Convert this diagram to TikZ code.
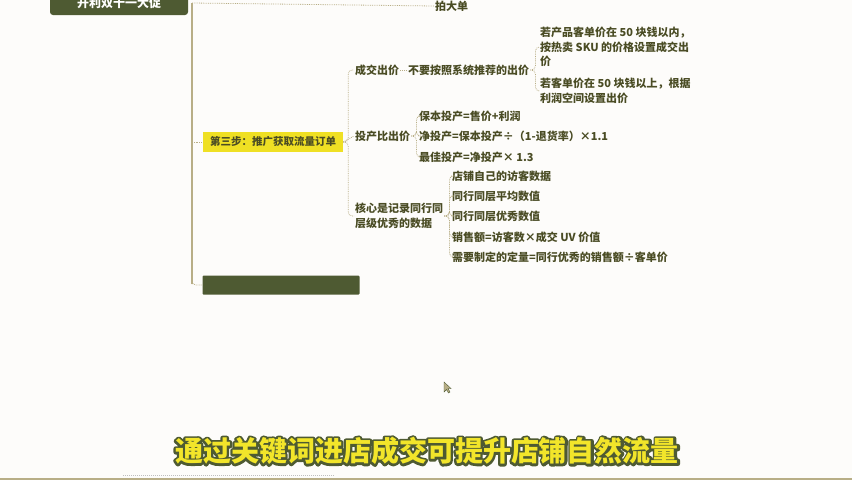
\documentclass[tikz,border=0pt]{standalone}
\usepackage{fontspec}
\setmainfont{Noto Sans CJK SC}
\usetikzlibrary{positioning}
\definecolor{olivedark}{HTML}{4E5A32}
\definecolor{textolive}{HTML}{4A4C24}
\definecolor{linetan}{HTML}{B8AE86}
\definecolor{stepyellow}{HTML}{EFE024}
\definecolor{subyellow}{HTML}{F2E52A}
\definecolor{paper}{HTML}{FDFCFA}
\tikzset{
  item/.style={anchor=west, inner sep=1pt, text=textolive, align=left,
    font=\bfseries\fontsize{11}{14.5}\selectfont},
  link/.style={linetan, densely dotted, line width=0.8pt, rounded corners=4pt},
  spine/.style={linetan, line width=1.5pt},
  darkbox/.style={fill=olivedark, rounded corners=3pt, text=white,
    font=\bfseries\fontsize{12}{14}\selectfont},
  subline/.style={font=\bfseries\fontsize{28}{30}\selectfont},
}
\begin{document}
\begin{tikzpicture}[x=1pt,y=-1pt]
  \useasboundingbox[fill=paper] (0,0) rectangle (852,480);

  % tronco del mapa
  \node[darkbox, minimum width=138pt, minimum height=24pt] (promo) at (119,3) {开利双十一大促};
  \coordinate (spinetop) at (192,3);
  \coordinate (spinebot) at (192,284);
  \draw[spine] (spinetop) -- (spinebot);
  \node[item] (bigorder) at (434,6) {拍大单};
  \draw[link] (spinetop) -- (bigorder.west);

  % paso tres
  \node[fill=stepyellow, text=textolive, minimum width=140pt, minimum height=20pt,
    font=\bfseries\fontsize{10.5}{12}\selectfont] (step3) at (273,142) {第三步：推广获取流量订单};
  \draw[link] (spinetop |- step3.west) -- (step3.west);
  \node[darkbox, rounded corners=1pt, minimum width=157pt, minimum height=19pt] (bar) at (281,285) {};
  \draw[link] (spinebot) |- (bar.west);

  % ramas
  \node[item] (deal) at (354,70) {成交出价};
  \node[item] (roi) at (354,136) {投产比出价};
  \node[item] (core) at (354,216) {核心是记录同行同\\层级优秀的数据};
  \draw[link] (step3.east) -- (roi.west);
  \draw[link] (step3.east) -- ++(5,0) |- (deal.west);
  \draw[link] (step3.east) -- ++(5,0) |- (core.west);

  \node[item] (nosys) at (407,70) {不要按照系统推荐的出价};
  \node[item] (low) at (539,47) {若产品客单价在 50 块钱以内，\\按热卖 SKU 的价格设置成交出\\价};
  \node[item] (high) at (539,91) {若客单价在 50 块钱以上，根据\\利润空间设置出价};
  \draw[link] (deal.east) -- (nosys.west);
  \draw[link] (nosys.east) -- ++(5,0) |- (low.west);
  \draw[link] (nosys.east) -- ++(5,0) |- (high.west);

  \node[item] (r1) at (418,116) {保本投产=售价+利润};
  \node[item] (r2) at (418,136) {净投产=保本投产÷（1-退货率）×1.1};
  \node[item] (r3) at (418,157) {最佳投产=净投产× 1.3};
  \foreach \i in {1,2,3}
    \draw[link] (roi.east) -- ++(5,0) |- (r\i.west);

  \node[item] (c1) at (451,176) {店铺自己的访客数据};
  \node[item] (c2) at (451,196) {同行同层平均数值};
  \node[item] (c3) at (451,216) {同行同层优秀数值};
  \node[item] (c4) at (451,237) {销售额=访客数×成交 UV 价值};
  \node[item] (c5) at (451,257) {需要制定的定量=同行优秀的销售额÷客单价};
  \foreach \i in {1,...,5}
    \draw[link] (core.east) -- ++(5,0) |- (c\i.west);

  % puntero
  \draw[fill=linetan, draw=olivedark, line width=0.4pt]
    (444,382) -- (444,392) -- (446.5,389.5) -- (448.5,393) -- (450,392) -- (448,388.5) -- (451,388.5) -- cycle;

  % subtitulo
  \node[subline, text=olivedark] (subshadow) at (427,451)
    {\special{pdf:literal direct 2 Tr 4.5 w 1 j}通过关键词进店成交可提升店铺自然流量\special{pdf:literal direct 0 Tr 1 w}};
  \node[subline, text=subyellow] (sub) at (subshadow) {通过关键词进店成交可提升店铺自然流量};

  \draw[black!25, densely dotted, line width=1pt] (123,475) -- (335,475);
  \draw[linetan, line width=2pt] (0,479) -- (852,479);
\end{tikzpicture}
\end{document}
